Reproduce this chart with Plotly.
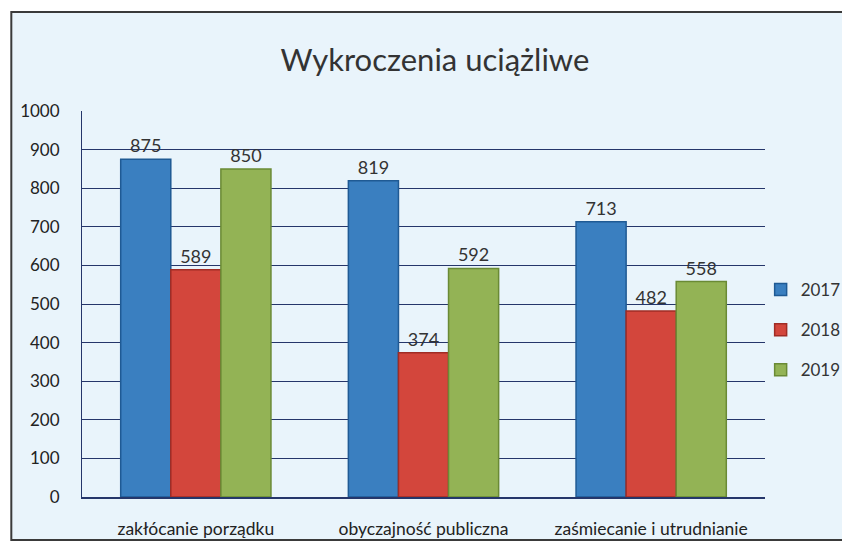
import plotly.graph_objects as go

categories = ["zakłócanie porządku", "obyczajność publiczna", "zaśmiecanie i utrudnianie"]
years = ["2017", "2018", "2019"]
values_2017 = [875, 819, 713]
values_2018 = [589, 374, 482]
values_2019 = [850, 592, 558]

colors = ["#3a7fc0", "#d3463c", "#93b355"]
edges = ["#1f5a94", "#a02c25", "#6a8a35"]

# the page body adds an 8px offset, so figure coords = screen coords - 8
OFF = 8
W, H = 850, 553
L, R, T, B = 79 - OFF, 93, 111 - OFF, 64
pw, ph = W - L - R, H - T - B


def px_x(x):
    return (x - OFF - L) / pw


def px_y(y):
    return (H - B - (y - OFF)) / ph


fig = go.Figure()
for i, (year, vals) in enumerate(zip(years, [values_2017, values_2018, values_2019])):
    fig.add_trace(go.Bar(
        x=categories, y=vals, name=year, legendgroup=year,
        marker=dict(color=colors[i], line=dict(color=edges[i], width=1.5)),
        text=vals, textposition="outside", cliponaxis=False,
        textfont=dict(size=18, color="#333333", family="Lato"),
    ))

fig.update_layout(
    width=W, height=H,
    margin=dict(l=L, r=R, t=T, b=B),
    paper_bgcolor="white",
    plot_bgcolor="white",
    barmode="group", bargap=0.34, bargroupgap=0,
    font=dict(family="Lato", color="#222222"),
    title=dict(text="Wykroczenia uciążliwe", x=(435 - OFF) / W, xanchor="center",
               y=1 - (60 - OFF) / H, yanchor="middle",
               font=dict(size=31, color="#333333", family="Lato")),
    showlegend=True,
    legend=dict(x=px_x(846), xanchor="right", y=px_y(272), yanchor="top",
                font=dict(size=17, color="#333333"), bgcolor="rgba(0,0,0,0)",
                tracegroupgap=15, itemwidth=30),
    shapes=[dict(type="rect", xref="paper", yref="paper",
                 x0=px_x(8), x1=px_x(860), y0=px_y(540), y1=px_y(12),
                 fillcolor="#e9f4fb", line=dict(color="#3a3a3a", width=2),
                 layer="below")],
)
fig.update_yaxes(range=[0, 1000], dtick=100, showgrid=True,
                 gridcolor="#25366a", gridwidth=1,
                 showline=True, linecolor="#25366a", linewidth=1,
                 ticks="", ticklabelstandoff=18,
                 tickfont=dict(size=17, color="#222222"), zeroline=False)
fig.update_xaxes(showline=True, linecolor="#25366a", linewidth=1.5,
                 ticks="", ticklabelstandoff=15,
                 tickfont=dict(size=17.5, color="#222222"))

fig.write_html("out.html")
